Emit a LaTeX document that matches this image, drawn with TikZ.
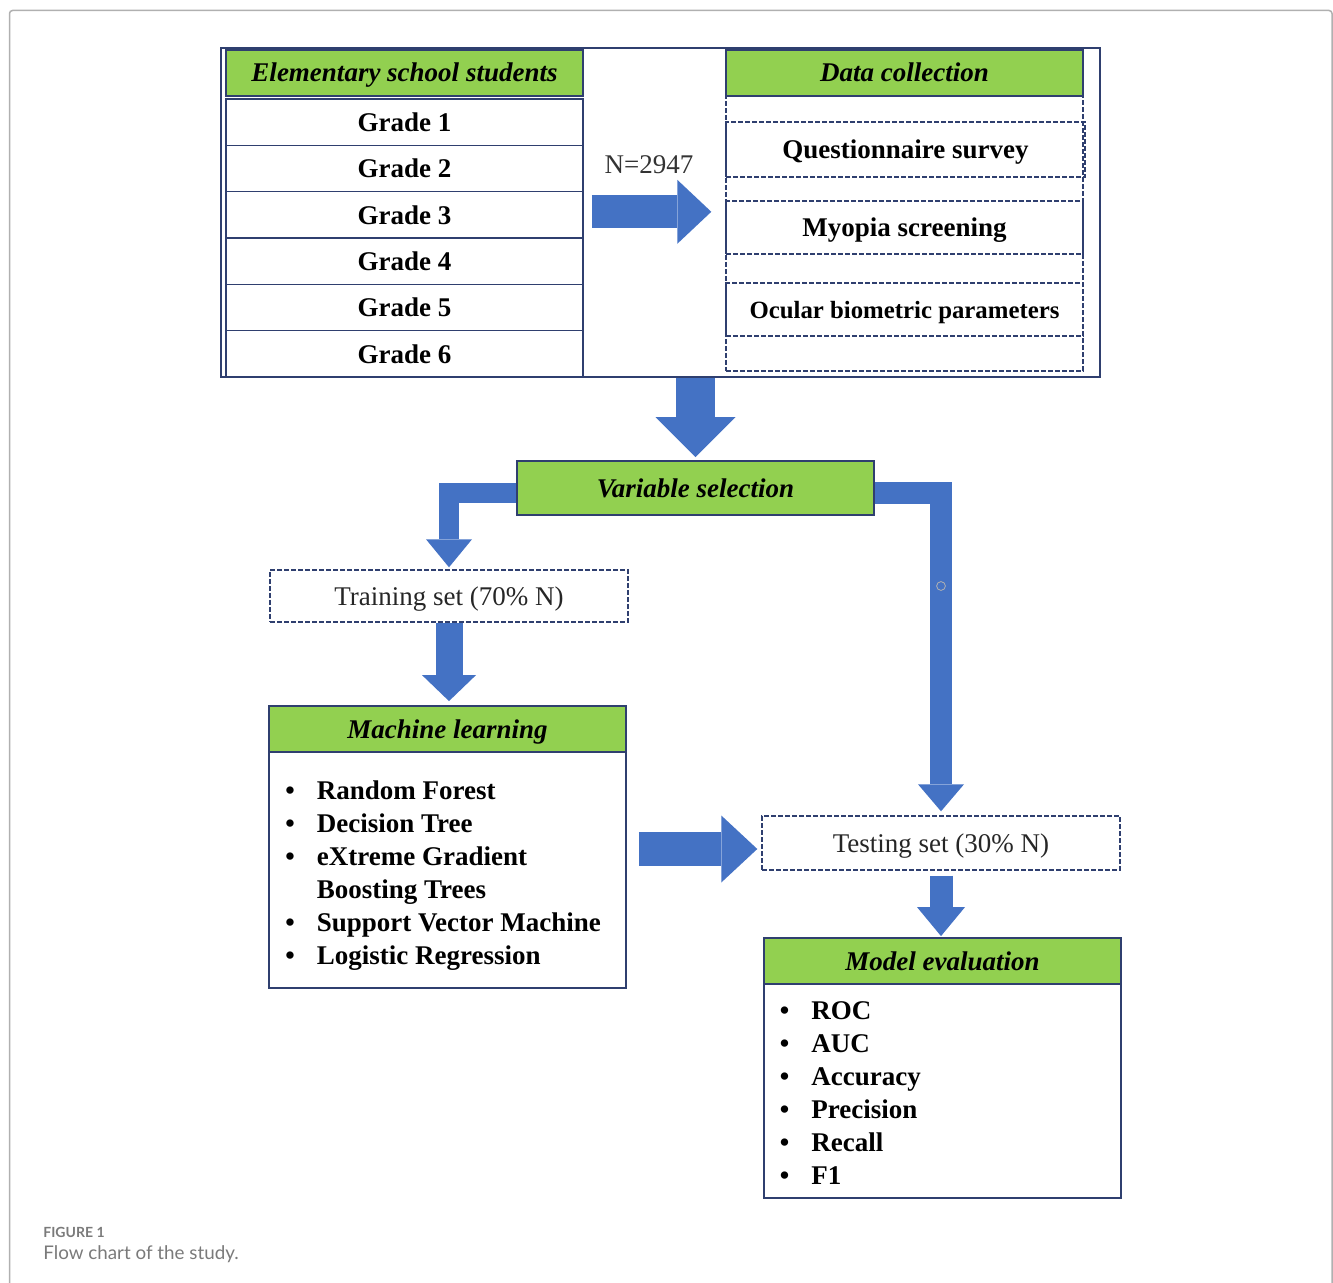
\documentclass[tikz,border=0pt]{standalone}
\usepackage{fontspec}
\setmainfont{Liberation Serif}
\newfontfamily\capfont{Lato}
\usetikzlibrary{arrows.meta,calc,positioning}

\definecolor{boxgreen}{HTML}{92D050}
\definecolor{arrowblue}{HTML}{4472C4}
\definecolor{linenavy}{HTML}{2F3F6F}
\definecolor{framegrey}{HTML}{B0B0B0}
\definecolor{capgrey}{HTML}{7A7A7A}

\tikzset{
  headbox/.style={draw=linenavy, fill=boxgreen, line width=0.9pt, minimum width=178.5pt, minimum height=23pt, text height=9pt, text depth=0pt, font=\fontsize{13.5}{16}\selectfont\bfseries\itshape},
  cellbox/.style={draw=linenavy, line width=0.8pt, minimum width=178.5pt, minimum height=23.17pt, font=\fontsize{13.5}{16}\selectfont\bfseries},
  dashbox/.style={draw=linenavy, dash pattern=on 2.4pt off 1.1pt, line width=0.7pt, text height=9pt, text depth=0pt},
  listbox/.style={draw=linenavy, line width=0.8pt, fill=white, minimum width=178.5pt},
  bigarrow/.style n args={3}{draw=arrowblue, line width=#1, line join=miter, -{Triangle[width=#2 0 0, length=#3 0 0, line width=0pt, fill=arrowblue]}},
}

\begin{document}
\begin{tikzpicture}[x=0.5pt, y=-0.5pt]
    \tikzstyle{every node}+=[inner sep=0pt]
    \useasboundingbox (0,0) rectangle (1333,1283);
    \draw [framegrey, line width=0.75pt, rounded corners=1.5pt] (9.5,1283) -- (9.5,10.5) -- (1332,10.5) -- (1332,1283);

    % top block
    \node [draw=linenavy, line width=0.8pt, minimum width=439.5pt, minimum height=164.5pt] (frame) at (660.5,212.5) {};
    \node [headbox] (ess) at (404.5,73) {Elementary school students};
    \node [cellbox] (g1) at (404.5,122.2) {Grade 1};
    \node [cellbox] (g2) at (404.5,168.5) {Grade 2};
    \node [cellbox] (g3) at (404.5,214.8) {Grade 3};
    \node [cellbox] (g4) at (404.5,261.2) {Grade 4};
    \node [cellbox] (g5) at (404.5,307.5) {Grade 5};
    \node [cellbox] (g6) at (404.5,353.8) {Grade 6};

    \node [dashbox, minimum width=178.5pt, minimum height=137.5pt] (dcbox) at (904.5,233.5) {};
    \node [headbox] (dc) at (904.5,73) {Data collection};
    \node [dashbox, minimum width=179.5pt, minimum height=27.5pt, font=\fontsize{13.5}{16}\selectfont\bfseries] (qs) at (905.5,149.5) {Questionnaire survey};
    \node [dashbox, minimum width=178.5pt, minimum height=26.5pt, font=\fontsize{13.5}{16}\selectfont\bfseries] (ms) at (904.5,227.5) {Myopia screening};
    \node [dashbox, minimum width=178.5pt, minimum height=26.5pt, font=\fontsize{12.4}{15}\selectfont\bfseries] (ob) at (904.5,309.5) {Ocular biometric parameters};
    \node [font=\fontsize{13.5}{16}\selectfont, text=black!80] (nlabel) at (649,165) {N=2947};

    % lower part
    \node [headbox, minimum height=27pt] (vs) at (695.5,488) {Variable selection};
    \node [dashbox, minimum width=179pt, minimum height=26pt, font=\fontsize{13.5}{16}\selectfont, text=black!85] (train) at (449,596) {Training set (70\% N)};
    \node [listbox, minimum height=118pt] (mlb) at (447.5,870) {};
    \node [headbox] (mlh) at (447.5,729) {Machine learning};
    \node [dashbox, minimum width=179pt, minimum height=27pt, font=\fontsize{13.5}{16}\selectfont, text=black!85] (test) at (941,843) {Testing set (30\% N)};
    \node [listbox, minimum height=107pt] (meb) at (942.5,1091) {};
    \node [headbox] (meh) at (942.5,961) {Model evaluation};

    \node [anchor=base west, font=\fontsize{13.5}{16.5}\selectfont\bfseries] (mllist) at (285,799) {\begin{tabular}[t]{@{}l@{\hspace{11pt}}l@{}}
      \textbullet & Random Forest\\
      \textbullet & Decision Tree\\
      \textbullet & eXtreme Gradient\\
                  & Boosting Trees\\
      \textbullet & Support Vector Machine\\
      \textbullet & Logistic Regression
    \end{tabular}};
    \node [anchor=base west, font=\fontsize{13.5}{16.5}\selectfont\bfseries] (melist) at (779.5,1019) {\begin{tabular}[t]{@{}l@{\hspace{11pt}}l@{}}
      \textbullet & ROC\\
      \textbullet & AUC\\
      \textbullet & Accuracy\\
      \textbullet & Precision\\
      \textbullet & Recall\\
      \textbullet & F1
    \end{tabular}};

    % block arrows
    \draw [bigarrow={16.5pt}{32pt}{17pt}] ($(g3.east)+(8,-3)$) -- ($(g3.east -| dcbox.west)+(-14,-3)$);
    \draw [bigarrow={19.5pt}{40pt}{20pt}, shorten >=1.5pt] (frame.south -| vs.north) -- (vs.north);
    \draw [bigarrow={10pt}{23pt}{14pt}, shorten >=1pt] ($(vs.west)+(0,5)$) -| (train.north);
    \draw [bigarrow={11pt}{23pt}{13.5pt}, shorten >=2pt] ($(vs.east)+(0,5)$) -| (test.north);
    \draw [bigarrow={13.5pt}{27pt}{13pt}, shorten >=2pt] (train.south) -- (train.south |- mlh.north);
    \draw [bigarrow={17pt}{33.5pt}{18pt}, shorten >=2pt] ($(mlb.east |- test.west)+(12,6)$) -- ($(test.west)+(0,6)$);
    \draw [bigarrow={11.5pt}{24pt}{14.5pt}, shorten <=2.5pt, shorten >=0.5pt] (test.south) -- (test.south |- meh.north);
    \draw [gray!60, line width=0.4pt] (941,586) circle [radius=2.2pt];

    % caption
    \node [anchor=west, text=capgrey, font=\capfont\bfseries\fontsize{7}{8}\selectfont] (figno) at (43,1232) {FIGURE 1};
    \node [anchor=west, text=capgrey, font=\capfont\fontsize{9.4}{11}\selectfont] (figcap) at (43,1254) {Flow chart of the study.};
\end{tikzpicture}
\end{document}
